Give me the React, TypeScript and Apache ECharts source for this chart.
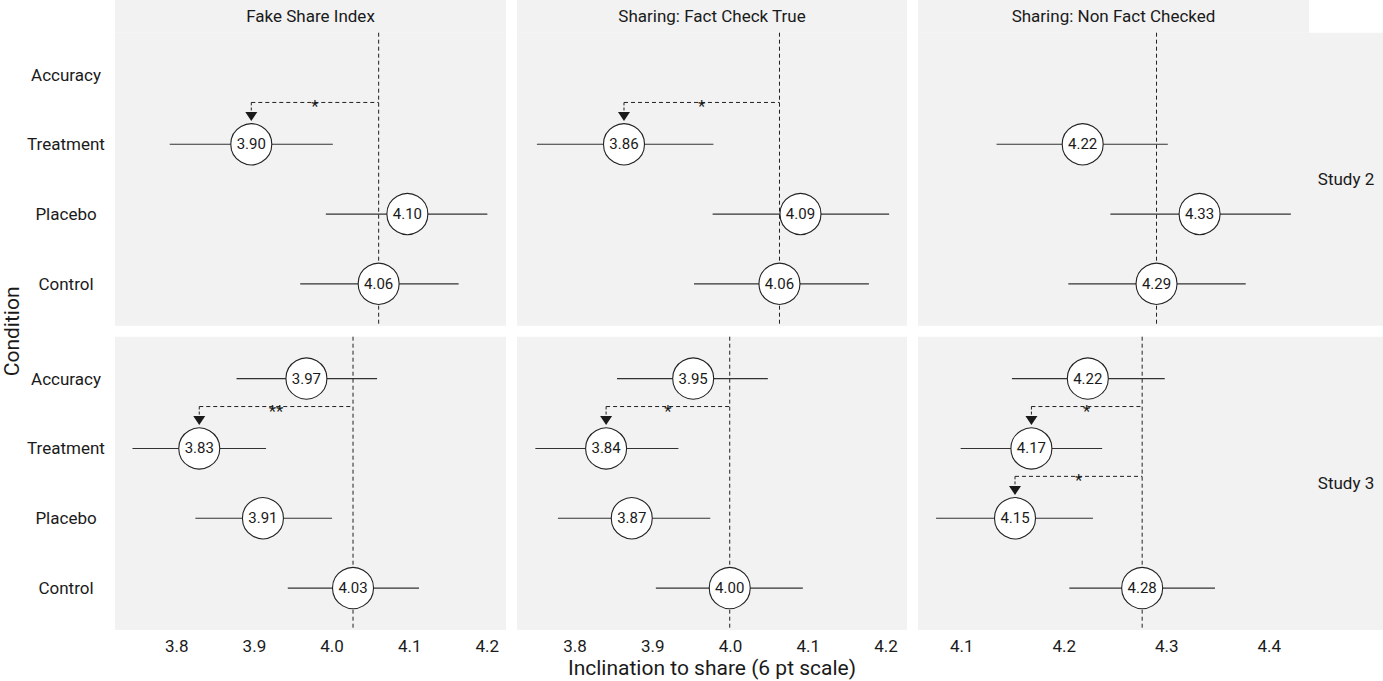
import React, { useEffect, useRef } from "react";
import * as echarts from "echarts";

// ---------- data ----------
const conditions = ["Accuracy", "Treatment", "Placebo", "Control"];
const outcomes = ["Fake Share Index", "Sharing: Fact Check True", "Sharing: Non Fact Checked"];
const studies = ["Study 2", "Study 3"];

// Study 2 (no Accuracy condition)
const s2FakeMean = [null, 3.896, 4.097, 4.06];
const s2FakeLo = [null, 3.791, 3.992, 3.959];
const s2FakeHi = [null, 4.001, 4.2, 4.163];

const s2TrueMean = [null, 3.863, 4.09, 4.063];
const s2TrueLo = [null, 3.751, 3.977, 3.953];
const s2TrueHi = [null, 3.978, 4.204, 4.178];

const s2NonMean = [null, 4.218, 4.332, 4.29];
const s2NonLo = [null, 4.134, 4.245, 4.204];
const s2NonHi = [null, 4.301, 4.421, 4.377];

// Study 3
const s3FakeMean = [3.967, 3.829, 3.911, 4.027];
const s3FakeLo = [3.877, 3.743, 3.824, 3.943];
const s3FakeHi = [4.058, 3.915, 4.0, 4.112];

const s3TrueMean = [3.952, 3.84, 3.873, 3.999];
const s3TrueLo = [3.854, 3.749, 3.778, 3.904];
const s3TrueHi = [4.048, 3.933, 3.974, 4.093];

const s3NonMean = [4.223, 4.168, 4.152, 4.276];
const s3NonLo = [4.149, 4.099, 4.075, 4.205];
const s3NonHi = [4.298, 4.237, 4.228, 4.347];

// significance vs Control: [study, outcome, condition, label]
const sigTests: [number, number, string, string][] = [
  [0, 0, "Treatment", "*"],
  [0, 1, "Treatment", "*"],
  [1, 0, "Treatment", "**"],
  [1, 1, "Treatment", "*"],
  [1, 2, "Treatment", "*"],
  [1, 2, "Placebo", "*"],
];

const xTicks = [
  [3.8, 3.9, 4.0, 4.1, 4.2],
  [3.8, 3.9, 4.0, 4.1, 4.2],
  [4.1, 4.2, 4.3, 4.4],
];

// ---------- layout ----------
const colLeft = [115, 517, 918];
const colWidth = [391, 390, 391];
const rowTop = [32.7, 336.7];
const rowHeight = [293, 293.3];
const xDomains = [
  [3.7205, 4.224],
  [3.7254, 4.227],
  [4.0574, 4.4387],
];
const PANEL_BG = "#F2F2F2";
const INK = "#1a1a1a";
const FONT = "Roboto";

const panelData = [
  [
    [s2FakeMean, s2FakeLo, s2FakeHi],
    [s2TrueMean, s2TrueLo, s2TrueHi],
    [s2NonMean, s2NonLo, s2NonHi],
  ],
  [
    [s3FakeMean, s3FakeLo, s3FakeHi],
    [s3TrueMean, s3TrueLo, s3TrueHi],
    [s3NonMean, s3NonLo, s3NonHi],
  ],
];

function buildOption() {
  const grid: any[] = [];
  const xAxis: any[] = [];
  const yAxis: any[] = [];
  const series: any[] = [];

  for (let r = 0; r < 2; r++) {
    for (let c = 0; c < 3; c++) {
      const idx = r * 3 + c;
      grid.push({
        left: colLeft[c],
        top: rowTop[r],
        width: colWidth[c],
        height: rowHeight[r],
        show: true,
        backgroundColor: PANEL_BG,
        borderWidth: 0,
      });
      xAxis.push({
        type: "value",
        gridIndex: idx,
        min: xDomains[c][0],
        max: xDomains[c][1],
        axisLine: { show: false },
        axisTick: { show: false },
        splitLine: { show: false },
        axisLabel: {
          show: r === 1,
          customValues: xTicks[c],
          formatter: (v: number) => v.toFixed(1),
          fontSize: 17,
          fontFamily: FONT,
          color: INK,
          margin: 7,
        },
      });
      yAxis.push({
        type: "value",
        gridIndex: idx,
        min: 0.4,
        max: 4.6,
        inverse: true,
        axisLine: { show: false },
        axisTick: { show: false },
        splitLine: { show: false },
        axisLabel: {
          show: c === 0,
          customValues: [1, 2, 3, 4],
          formatter: (v: number) => conditions[Math.round(v) - 1] ?? "",
          fontSize: 17,
          fontFamily: FONT,
          color: INK,
          align: "center",
          margin: 49,
        },
      });

      const [means, los, his] = panelData[r][c];
      const ctrl = means[conditions.indexOf("Control")] as number;

      // reference dashed line at the Control mean
      series.push({
        type: "custom",
        xAxisIndex: idx,
        yAxisIndex: idx,
        z: 1,
        silent: true,
        data: [[ctrl]],
        encode: { x: 0 },
        renderItem: (_p: any, api: any) => {
          const v = api.value(0);
          const a = api.coord([v, 0.4]);
          const b = api.coord([v, 4.6]);
          return {
            type: "line",
            shape: { x1: a[0], y1: a[1], x2: b[0], y2: b[1] },
            style: { stroke: "#222", lineWidth: 1, lineDash: [4, 3] },
          };
        },
      });

      // significance brackets
      const tests = sigTests.filter((t) => t[0] === r && t[1] === c);
      if (tests.length) {
        series.push({
          type: "custom",
          xAxisIndex: idx,
          yAxisIndex: idx,
          z: 2,
          silent: true,
          data: tests.map((t) => {
            const ci = conditions.indexOf(t[2]);
            return [ctrl, means[ci] as number, ci + 1];
          }),
          encode: { x: [0, 1], y: 2 },
          renderItem: (p: any, api: any) => {
            const ref = api.value(0);
            const tgt = api.value(1);
            const row = api.value(2);
            const lineL = api.coord([tgt, row - 0.6]);
            const lineR = api.coord([ref, row - 0.6]);
            const tip = api.coord([tgt, row - 0.334]);
            const baseY = tip[1] - 9;
            const label = tests[p.dataIndex][3];
            return {
              type: "group",
              children: [
                {
                  type: "line",
                  shape: { x1: lineL[0], y1: lineL[1], x2: lineR[0], y2: lineR[1] },
                  style: { stroke: "#222", lineWidth: 1, lineDash: [4, 3] },
                },
                {
                  type: "line",
                  shape: { x1: lineL[0], y1: lineL[1], x2: lineL[0], y2: baseY },
                  style: { stroke: "#222", lineWidth: 1, lineDash: [3, 2] },
                },
                {
                  type: "polygon",
                  shape: {
                    points: [
                      [tip[0] - 6, baseY],
                      [tip[0] + 6, baseY],
                      [tip[0], tip[1]],
                    ],
                  },
                  style: { fill: "#1a1a1a" },
                },
                {
                  type: "text",
                  style: {
                    text: label,
                    x: (lineL[0] + lineR[0]) / 2,
                    y: lineL[1] + 4,
                    align: "center",
                    verticalAlign: "middle",
                    font: `17px ${FONT}`,
                    fill: INK,
                  },
                },
              ],
            };
          },
        });
      }

      // error bars with labelled circles
      const pts: number[][] = [];
      conditions.forEach((_cond, ci) => {
        if (means[ci] != null) pts.push([los[ci] as number, means[ci] as number, his[ci] as number, ci + 1]);
      });
      series.push({
        type: "custom",
        xAxisIndex: idx,
        yAxisIndex: idx,
        z: 3,
        silent: true,
        data: pts,
        encode: { x: [0, 1, 2], y: 3 },
        renderItem: (_p: any, api: any) => {
          const row = api.value(3);
          const lo = api.coord([api.value(0), row]);
          const m = api.coord([api.value(1), row]);
          const hi = api.coord([api.value(2), row]);
          return {
            type: "group",
            children: [
              {
                type: "line",
                shape: { x1: lo[0], y1: lo[1], x2: hi[0], y2: hi[1] },
                style: { stroke: "#333", lineWidth: 1.1 },
              },
              {
                type: "circle",
                shape: { cx: m[0], cy: m[1], r: 20.5 },
                style: { fill: "#ffffff", stroke: "#222", lineWidth: 1.1 },
              },
              {
                type: "text",
                style: {
                  text: Number(api.value(1)).toFixed(2),
                  x: m[0],
                  y: m[1],
                  align: "center",
                  verticalAlign: "middle",
                  font: `15px ${FONT}`,
                  fill: INK,
                },
              },
            ],
          };
        },
      });
    }
  }

  // strips and axis titles
  const graphic: any[] = [];
  for (let c = 0; c < 3; c++) {
    graphic.push({
      type: "rect",
      shape: { x: colLeft[c], y: 0, width: colWidth[c], height: rowTop[0] },
      style: { fill: PANEL_BG },
      silent: true,
      z: -1,
    });
    graphic.push({
      type: "text",
      x: colLeft[c] + colWidth[c] / 2,
      y: rowTop[0] / 2,
      style: {
        text: outcomes[c],
        align: "center",
        verticalAlign: "middle",
        font: `17px ${FONT}`,
        fill: INK,
      },
    });
  }
  const stripX = colLeft[2] + colWidth[2];
  for (let r = 0; r < 2; r++) {
    graphic.push({
      type: "rect",
      shape: { x: stripX, y: rowTop[r], width: 1383 - stripX, height: rowHeight[r] },
      style: { fill: PANEL_BG },
      silent: true,
      z: -1,
    });
    graphic.push({
      type: "text",
      x: stripX + (1383 - stripX) / 2,
      y: rowTop[r] + rowHeight[r] / 2,
      style: {
        text: studies[r],
        align: "center",
        verticalAlign: "middle",
        font: `17px ${FONT}`,
        fill: INK,
      },
    });
  }
  graphic.push({
    type: "text",
    x: (colLeft[0] + stripX) / 2,
    y: 668,
    style: {
      text: "Inclination to share (6 pt scale)",
      align: "center",
      verticalAlign: "middle",
      font: `21px ${FONT}`,
      fill: INK,
    },
  });
  graphic.push({
    type: "text",
    x: 11.5,
    y: (rowTop[0] + rowTop[1] + rowHeight[1]) / 2,
    rotation: Math.PI / 2,
    style: {
      text: "Condition",
      align: "center",
      verticalAlign: "middle",
      font: `21px ${FONT}`,
      fill: INK,
    },
  });

  return {
    animation: false,
    backgroundColor: "#ffffff",
    grid,
    xAxis,
    yAxis,
    series,
    graphic,
  };
}

export default function App() {
  const ref = useRef<HTMLDivElement>(null);
  useEffect(() => {
    if (!ref.current) return;
    const chart = echarts.init(ref.current, undefined, { renderer: "svg" });
    chart.setOption(buildOption() as any);
    return () => chart.dispose();
  }, []);
  return (
    <div
      ref={ref}
      style={{ position: "fixed", left: 0, top: 0, width: 1383, height: 681 }}
    />
  );
}
